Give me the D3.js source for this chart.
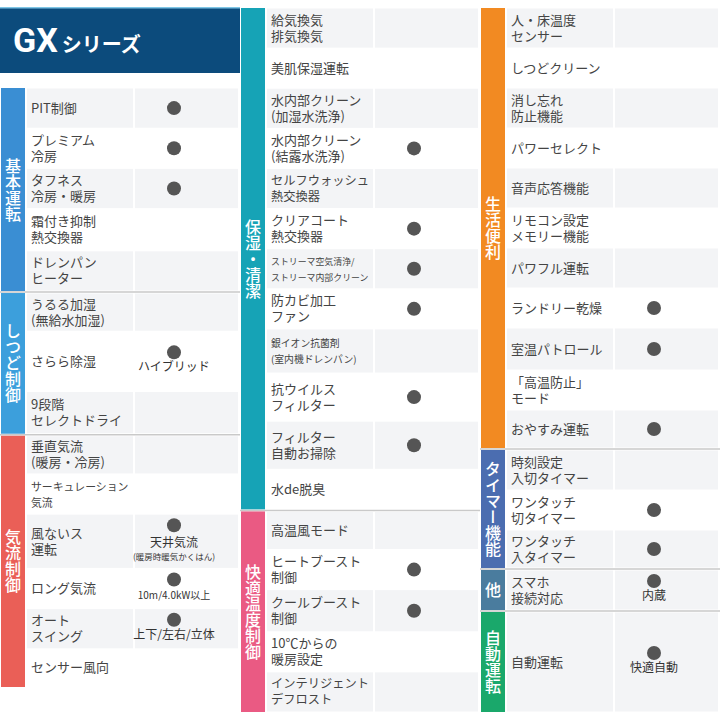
<!DOCTYPE html>
<html lang="ja">
<head>
<meta charset="UTF-8">
<script src="https://cdn.jsdelivr.net/npm/d3@7/dist/d3.min.js"></script>
<style>
	body { margin: 0; background: #fff; }
	svg { font-family: "Noto Sans CJK JP", "Noto Sans", sans-serif; }
	.lbl { fill: #444; }
	.sub { fill: #333; text-anchor: middle; }
	.grp { fill: #fff; font-size: 16px; writing-mode: vertical-rl; text-orientation: upright; font-weight: 500; }
</style>
</head>
<body>
<svg id="chart" width="720" height="720"></svg>
<script>
// each row: [label lines, has dot, note, weight]
const kihon = [
	[["PIT制御"], true, "", 1],
	[["プレミアム", "冷房"], true, "", 1],
	[["タフネス", "冷房・暖房"], true, "", 1],
	[["霜付き抑制", "熱交換器"], false, "", 1.05],
	[["ドレンパン", "ヒーター"], false, "", 1]
]
const shitsudo = [
	[["うるる加湿", "(無給水加湿)"], false, "", 0.95],
	[["さらら除湿"], true, "ハイブリッド", 1.5],
	[["9段階", "セレクトドライ"], false, "", 1.05]
]
const kiryu = [
	[["垂直気流", "(暖房・冷房)"], false, "", 0.95],
	[["サーキュレーション", "気流"], false, "", 1],
	[["風ないス", "運転"], true, "天井気流|(暖房時暖気かくはん)", 1.35],
	[["ロング気流"], true, "10m/4.0kW以上", 1],
	[["オート", "スイング"], true, "上下/左右/立体", 1],
	[["センサー風向"], false, "", 0.95]
]
const hoshitsu = [
	[["給気換気", "排気換気"], false, "", 1],
	[["美肌保湿運転"], false, "", 1],
	[["水内部クリーン", "(加湿水洗浄)"], false, "", 1],
	[["水内部クリーン", "(結露水洗浄)"], true, "", 1],
	[["セルフウォッシュ", "熱交換器"], false, "", 1],
	[["クリアコート", "熱交換器"], true, "", 1],
	[["ストリーマ空気清浄/", "ストリーマ内部クリーン"], true, "", 1],
	[["防カビ加工", "ファン"], true, "", 1],
	[["銀イオン抗菌剤", "(室内機ドレンパン)"], false, "", 1.1],
	[["抗ウイルス", "フィルター"], true, "", 1.2],
	[["フィルター", "自動お掃除"], true, "", 1.2],
	[["水de脱臭"], false, "", 1]
]
const kaiteki = [
	[["高温風モード"], false, "", 0.95],
	[["ヒートブースト", "制御"], true, "", 1],
	[["クールブースト", "制御"], true, "", 1.05],
	[["10℃からの", "暖房設定"], false, "", 1],
	[["インテリジェント", "デフロスト"], false, "", 1]
]
const seikatsu = [
	[["人・床温度", "センサー"], false, "", 1],
	[["しつどクリーン"], false, "", 1],
	[["消し忘れ", "防止機能"], false, "", 1],
	[["パワーセレクト"], false, "", 1],
	[["音声応答機能"], false, "", 1],
	[["リモコン設定", "メモリー機能"], false, "", 1],
	[["パワフル運転"], false, "", 1],
	[["ランドリー乾燥"], true, "", 1],
	[["室温パトロール"], true, "", 1.05],
	[["「高温防止」", "モード"], false, "", 1],
	[["おやすみ運転"], true, "", 0.95]
]
const timer = [
	[["時刻設定", "入切タイマー"], false, "", 1],
	[["ワンタッチ", "切タイマー"], true, "", 1],
	[["ワンタッチ", "入タイマー"], true, "", 0.95]
]
const sonota = [
	[["スマホ", "接続対応"], true, "内蔵", 1]
]
const jido = [
	[["自動運転"], true, "快適自動", 2.5]
]

const columns = [
	{ x: 0, top: 88, bottom: 687, groups: [["基本運転", "#3a8ed3", kihon], ["しつど制御", "#3c9fdc", shitsudo], ["気流制御", "#ea5f57", kiryu]] },
	{ x: 240, top: 8, bottom: 712, groups: [["保湿・清潔", "#16a3b6", hoshitsu], ["快適温度制御", "#ea5a83", kaiteki]] },
	{ x: 480, top: 8, bottom: 712, groups: [["生活便利", "#f28a22", seikatsu], ["タイマー機能", "#4b6db0", timer], ["他", "#4a7c9e", sonota], ["自動運転", "#1aa86b", jido]] }
]

const svg = d3.select("#chart")
const gap = 0.05

// header
const head = svg.append("g")
head.append("rect").attr("x", 0).attr("y", 7).attr("width", 240).attr("height", 66).attr("fill", "#0c4b7c")
head.append("rect").attr("x", 0).attr("y", 7).attr("width", 240).attr("height", 1.5).attr("fill", "#7fc6e6")
const ht = head.append("text").attr("x", 13).attr("y", 52).attr("fill", "#fff")
ht.append("tspan").attr("font-size", 34).attr("font-weight", "bold").attr("font-family", "Roboto, sans-serif").text("GX")
ht.append("tspan").attr("font-size", 20).attr("font-weight", "bold").attr("dx", 4).text("シリーズ")

columns.forEach(function (col) {
	const total = d3.sum(col.groups, g => d3.sum(g[2], r => r[3])) + gap * (col.groups.length - 1)
	const y = d3.scaleLinear().domain([0, total]).range([col.top, col.bottom])
	let acc = 0
	const g = svg.append("g").attr("transform", `translate(${col.x},0)`)
	col.groups.forEach(function (grp, gi) {
		if (gi > 0) {
			g.append("line").attr("x1", 0).attr("x2", 240)
				.attr("y1", y(acc + gap / 2)).attr("y2", y(acc + gap / 2))
				.attr("stroke", "#c9c9c9").attr("stroke-width", 1.5)
			acc += gap
		}
		const start = acc
		grp[2].forEach(function (row, ri) {
			const y0 = y(acc), y1 = y(acc + row[3])
			const bg = ri % 2 === 0 ? "#f3f4f6" : "#fff"
			g.append("rect").attr("x", 27).attr("y", y0 + 0.5).attr("width", 106).attr("height", y1 - y0 - 1).attr("fill", bg)
			g.append("rect").attr("x", 135).attr("y", y0 + 0.5).attr("width", 103).attr("height", y1 - y0 - 1).attr("fill", bg)
			const lines = row[0]
			const maxLen = d3.max(lines, l => l.length)
			const fs = Math.min(13, 98 / maxLen)
			const lh = 16
			const cy = (y0 + y1) / 2
			lines.forEach(function (l, i) {
				g.append("text").attr("class", "lbl").attr("x", 31)
					.attr("font-size", fs)
					.attr("y", cy - (lines.length - 1) * lh / 2 + i * lh + 4.5)
					.text(l)
			})
			const notes = row[2] ? row[2].split("|") : []
			const cx = 174
			if (row[1]) {
				const dy = notes.length === 2 ? -16 : notes.length ? -9 : 0
				g.append("circle").attr("cx", cx).attr("cy", cy + dy).attr("r", 7).attr("fill", "#555")
			}
			notes.forEach(function (n, i) {
				g.append("text").attr("class", "sub").attr("x", cx)
					.attr("y", notes.length === 2 ? cy + 6 + i * 13 : cy + 10)
					.attr("font-size", i ? 8.5 : (n.length > 8 ? 10 : 12))
					.text(n)
			})
			acc += row[3]
		})
		const by0 = y(start), by1 = y(acc)
		g.append("rect").attr("x", 1).attr("y", by0).attr("width", 24).attr("height", by1 - by0).attr("fill", grp[1])
		g.append("text").attr("class", "grp").attr("x", 13).attr("y", (by0 + by1) / 2)
			.attr("text-anchor", "middle").text(grp[0])
	})
})
</script>
</body>
</html>
